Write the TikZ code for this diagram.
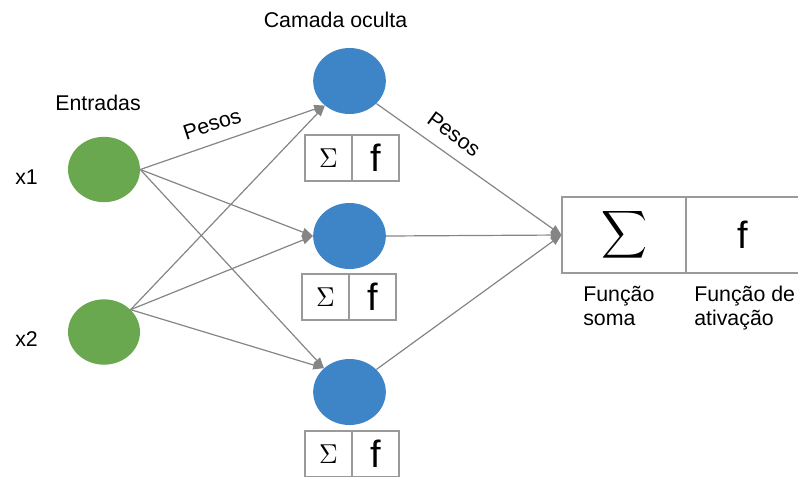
\documentclass[tikz,border=0pt]{standalone}
\usepackage[no-math]{fontspec}
\setmainfont{Liberation Sans}
\usepackage{graphicx}
\usetikzlibrary{shapes.geometric,arrows.meta}
\definecolor{ingreen}{HTML}{6AA84F}
\definecolor{hidblue}{HTML}{3D85C6}
\definecolor{linegray}{HTML}{858585}
\definecolor{boxgray}{HTML}{9A9A9A}
\tikzset{
  inode/.style={ellipse, fill=ingreen, draw=none, minimum width=54pt, minimum height=49pt, inner sep=0pt},
  hnode/.style={ellipse, fill=hidblue, draw=none, minimum width=54.5pt, minimum height=49.5pt, inner sep=0pt},
  sbox/.style={rectangle, draw=boxgray, line width=0.8pt, minimum width=35.25pt, minimum height=34.5pt, inner sep=0pt},
  obox/.style={rectangle, draw=boxgray, line width=0.8pt, minimum height=57pt, inner sep=0pt},
  arr/.style={draw=linegray, line width=0.9pt, -{Triangle[length=8pt,width=6.5pt]}},
  lbl/.style={font=\fontsize{16}{18}\selectfont, inner sep=0pt},
}
\newcommand{\smsig}{\resizebox{14pt}{14pt}{$\Sigma$}}
\newcommand{\bigf}{\fontsize{28.5}{30}\selectfont f}
\begin{document}
\begin{tikzpicture}[x=0.75pt,y=-0.75pt]
\useasboundingbox (0,0) rectangle (798,476);
% nodes
\node[inode] (i1) at (104,169.5) {};
\node[inode] (i2) at (104,332) {};
\node[hnode] (h1) at (349.5,81) {};
\node[hnode] (h2) at (349.5,236) {};
\node[hnode] (h3) at (349.5,392) {};
% small boxes
\node[sbox] (s1a) at (328.5,158) {\smsig};
\node[sbox] (s1b) at (375.5,158) {\bigf};
\node[sbox] (s2a) at (325.5,297) {\smsig};
\node[sbox] (s2b) at (372.5,297) {\bigf};
\node[sbox] (s3a) at (328.5,454) {\smsig};
\node[sbox] (s3b) at (375.5,454) {\bigf};
% output box
\node[obox, minimum width=93pt] (o1) at (624,235) {\resizebox{34.5pt}{26.25pt}{$\displaystyle\sum$}};
\node[obox, minimum width=86pt] (o2) at (743,235) {\bigf};
% connectors
\draw[arr] (i1.east) -- (h1.225);
\draw[arr] (i1.east) -- (h2.west);
\draw[arr] (i1.east) -- (h3.137);
\draw[arr] (i2.40) -- (h1.225);
\draw[arr] (i2.40) -- (h2.west);
\draw[arr] (i2.40) -- (h3.137);
\draw[arr] (h1.-40) -- (o1.west);
\draw[arr] (h2.east) -- (o1.west);
\draw[arr] (h3.40) -- (o1.west);
% labels
\node[lbl, anchor=base] (tcam) at (335.5,27) {Camada oculta};
\node[lbl, anchor=base] (tent) at (98,110) {Entradas};
\node[lbl, anchor=base west] (tx1) at (15,184) {x1};
\node[lbl, anchor=base west] (tx2) at (15,346) {x2};
\node[lbl, rotate=18] (tp1) at (212,124) {Pesos};
\node[lbl, rotate=-36] (tp2) at (454,134) {Pesos};
\node[lbl, anchor=base west] (tf1) at (583,301) {Função};
\node[lbl, anchor=base west] (tf2) at (583,325) {soma};
\node[lbl, anchor=base west] (tf3) at (694,301) {Função de};
\node[lbl, anchor=base west] (tf4) at (694,325) {ativação};
\end{tikzpicture}
\end{document}
